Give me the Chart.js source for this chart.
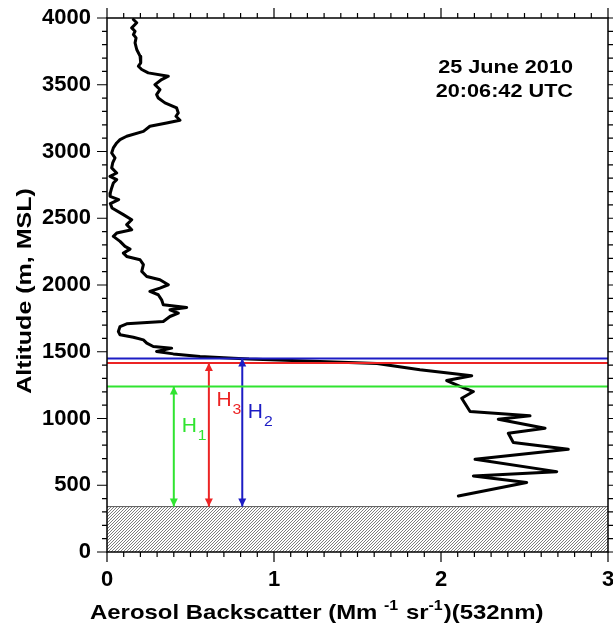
<!DOCTYPE html>
<html><head><meta charset="utf-8">
<script src="https://cdn.jsdelivr.net/npm/chart.js@4/dist/chart.umd.min.js"></script>
<style>html,body{margin:0;padding:0;background:#fff}</style>
</head><body>
<canvas id="c" width="613" height="626"></canvas>
<script>
// ---- data ----
const altitude = [3989,3964,3926,3901,3876,3851,3814,3764,3714,3664,3639,3614,3589,3564,3539,3501,3464,3426,3401,3364,3326,3289,3264,3234,3214,3189,3151,3114,3089,3064,3027,2989,2952,2914,2877,2839,2814,2789,2764,2727,2690,2664,2640,2610,2577,2527,2489,2452,2414,2389,2364,2327,2289,2269,2239,2214,2189,2152,2102,2064,2039,2002,1977,1952,1927,1889,1852,1832,1814,1789,1764,1727,1709,1689,1652,1627,1609,1589,1565,1539,1527,1502,1484,1464,1452,1445,1412,1365,1320,1284,1240,1202,1152,1052,1020,995,927,890,820,770,695,602,570,520,420];
const backscatter = [0.158,0.178,0.148,0.168,0.158,0.174,0.168,0.178,0.198,0.202,0.188,0.208,0.247,0.367,0.327,0.287,0.317,0.297,0.307,0.347,0.417,0.427,0.413,0.437,0.357,0.257,0.218,0.118,0.078,0.058,0.038,0.028,0.048,0.034,0.028,0.058,0.018,0.058,0.038,0.028,0.020,0.018,0.070,0.020,0.030,0.098,0.148,0.118,0.148,0.058,0.038,0.078,0.108,0.138,0.098,0.118,0.198,0.218,0.208,0.238,0.317,0.367,0.317,0.257,0.307,0.327,0.337,0.477,0.377,0.427,0.377,0.337,0.118,0.078,0.068,0.078,0.158,0.218,0.238,0.277,0.387,0.297,0.397,0.557,0.757,0.850,1.617,1.874,2.184,2.034,2.114,2.194,2.124,2.174,2.533,2.343,2.623,2.403,2.433,2.762,2.204,2.693,2.194,2.513,2.104];
const xTickValues = [0, 1, 2, 3];
const yTickValues = [0, 500, 1000, 1500, 2000, 2500, 3000, 3500, 4000];
const surfaceTop = 340;                       // top of hatched (surface) region, m
const layerNames = ['H1', 'H2', 'H3'];
const layerSubs = ['1', '2', '3'];
const layerHeights = [1240, 1450, 1415];      // m
const layerArrowX = [0.40, 0.81, 0.61];       // backscatter position of arrows
const dateLines = ['25 June 2010', '20:06:42 UTC'];

// ---- styles / annotation placement ----
const layerColors = ['#30e430', '#1c1cc4', '#ec2424'];
const labelAnchorX = [0.447, 0.843, 0.655];
const labelAnchorY = [900, 1005, 1090];
const FONT = 'Liberation Sans';

function hatch() {
  const p = document.createElement('canvas');
  p.width = 3; p.height = 3;
  const g = p.getContext('2d');
  g.fillStyle = '#ffffff'; g.fillRect(0, 0, 3, 3);
  g.strokeStyle = '#6e6e6e'; g.lineWidth = 0.9;
  g.beginPath();
  g.moveTo(0, 3); g.lineTo(3, 0);
  g.moveTo(-1, 1); g.lineTo(1, -1);
  g.moveTo(2, 4); g.lineTo(4, 2);
  g.stroke();
  return g.createPattern(p, 'repeat');
}

const ctx0 = document.getElementById('c').getContext('2d');

const profile = altitude.map((a, i) => ({x: backscatter[i], y: a}));
const datasets = [];
layerHeights.forEach((h, i) => {
  datasets.push({ data: [{x: 0, y: h}, {x: 3, y: h}], borderColor: layerColors[i], borderWidth: 2, pointRadius: 0, order: 0 });
  datasets.push({ data: [{x: layerArrowX[i], y: surfaceTop}, {x: layerArrowX[i], y: h}], borderColor: layerColors[i], borderWidth: 2, pointRadius: 0, order: 0 });
});
datasets.push({ data: profile, borderColor: '#000', borderWidth: 3, pointRadius: 0, tension: 0, borderJoinStyle: 'round', borderCapStyle: 'round', order: 1 });
datasets.push({ data: [{x: 0, y: surfaceTop}, {x: 3, y: surfaceTop}], borderColor: '#555', borderWidth: 1, pointRadius: 0, fill: 'origin', backgroundColor: hatch(), order: 2 });

function stretchText(ctx, text, x, y, sx) {
  ctx.save(); ctx.translate(x, y); ctx.scale(sx, 1); ctx.fillText(text, 0, 0); ctx.restore();
}

const decor = {
  id: 'decor',
  afterDraw(chart) {
    const {ctx, chartArea: a, scales: {x, y}} = chart;
    ctx.save();
    // arrow heads + labels
    layerHeights.forEach((h, i) => {
      const px = x.getPixelForValue(layerArrowX[i]);
      const top = y.getPixelForValue(h), bot = y.getPixelForValue(surfaceTop);
      ctx.fillStyle = layerColors[i];
      ctx.beginPath(); ctx.moveTo(px, top); ctx.lineTo(px - 4, top + 8); ctx.lineTo(px + 4, top + 8); ctx.closePath(); ctx.fill();
      ctx.beginPath(); ctx.moveTo(px, bot); ctx.lineTo(px - 4, bot - 8); ctx.lineTo(px + 4, bot - 8); ctx.closePath(); ctx.fill();
      const lx = x.getPixelForValue(labelAnchorX[i]), ly = y.getPixelForValue(labelAnchorY[i]);
      ctx.textAlign = 'left'; ctx.textBaseline = 'alphabetic';
      ctx.font = `20px "${FONT}"`;
      const hw = ctx.measureText('H').width * 1.05;
      stretchText(ctx, 'H', lx, ly, 1.05);
      ctx.font = `15px "${FONT}"`;
      stretchText(ctx, layerSubs[i], lx + hw + 1, ly + 8, 1.05);
    });
    // frame and ticks
    ctx.strokeStyle = '#000'; ctx.lineWidth = 1.5;
    ctx.strokeRect(a.left, a.top, a.right - a.left, a.bottom - a.top);
    ctx.lineWidth = 1.2;
    ctx.beginPath();
    for (let i = 0; i <= 30; i++) {
      const px = x.getPixelForValue(i / 10), len = i % 10 === 0 ? 10 : 5;
      ctx.moveTo(px, a.bottom); ctx.lineTo(px, a.bottom + len);
      ctx.moveTo(px, a.top); ctx.lineTo(px, a.top - len);
    }
    for (let i = 0; i <= 40; i++) {
      const py = y.getPixelForValue(i * 100), len = i % 5 === 0 ? 10 : 5;
      ctx.moveTo(a.left, py); ctx.lineTo(a.left - len, py);
      ctx.moveTo(a.right, py); ctx.lineTo(a.right + len, py);
    }
    ctx.stroke();
    // date text
    ctx.fillStyle = '#000';
    ctx.font = `bold 19px "${FONT}"`;
    ctx.textAlign = 'right';
    stretchText(ctx, dateLines[0], 573, 73, 1.14);
    stretchText(ctx, dateLines[1], 573, 97, 1.14);
    // y title
    ctx.save();
    ctx.translate(31, (a.top + a.bottom) / 2 + 6);
    ctx.rotate(-Math.PI / 2);
    ctx.textAlign = 'center';
    ctx.font = `bold 21px "${FONT}"`;
    stretchText(ctx, 'Altitude (m, MSL)', 0, 0, 1.19);
    ctx.restore();
    // x title with superscripts
    const sx = 1.14;
    const parts = [
      ['Aerosol Backscatter (Mm ', 21, 0],
      ['-1', 14, -9],
      [' sr', 21, 0],
      ['-1', 14, -9],
      [')(532nm)', 21, 0]
    ];
    let cx = 90; const base = 619;
    ctx.textAlign = 'left';
    parts.forEach(([t, fs, dy]) => {
      ctx.font = `bold ${fs}px "${FONT}"`;
      stretchText(ctx, t, cx, base + dy, sx);
      cx += ctx.measureText(t).width * sx + (fs < 20 ? 1 : 0);
    });
    ctx.restore();
  }
};

new Chart(ctx0, {
  type: 'line',
  data: { datasets },
  options: {
    responsive: false, animation: false, devicePixelRatio: 1,
    layout: { padding: { top: 18, right: 5, left: 0, bottom: 0 } },
    plugins: { legend: { display: false }, tooltip: { enabled: false } },
    scales: {
      x: {
        type: 'linear', min: 0, max: 3,
        afterBuildTicks: s => { s.ticks = xTickValues.map(v => ({value: v})); },
        ticks: { color: '#000', font: { family: FONT, size: 22, weight: 'bold' }, padding: 15, maxRotation: 0, autoSkip: false, callback: v => String(v) },
        grid: { display: false, drawTicks: false }, border: { display: false },
        afterFit: s => { s.height = 74; s.paddingLeft = 0; s.paddingRight = 0; }
      },
      y: {
        type: 'linear', min: 0, max: 4000,
        afterBuildTicks: s => { s.ticks = yTickValues.map(v => ({value: v})); },
        ticks: { color: '#000', font: { family: FONT, size: 22, weight: 'bold' }, padding: 16, autoSkip: false, callback: v => String(v) },
        grid: { display: false, drawTicks: false }, border: { display: false },
        afterFit: s => { s.width = 107; s.paddingTop = 0; s.paddingBottom = 0; }
      }
    }
  },
  plugins: [decor]
});
</script>
</body></html>
